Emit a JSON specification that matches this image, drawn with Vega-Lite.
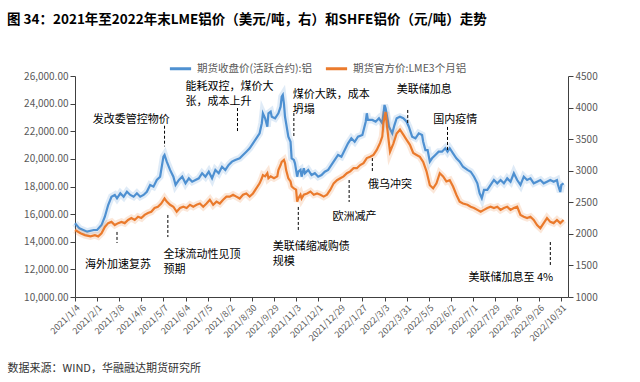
{
  "$schema": "https://vega.github.io/schema/vega-lite/v6.json",
  "width": 493,
  "height": 221,
  "padding": {"left": 7, "top": 12, "right": 10, "bottom": 5},
  "background": "white",
  "config": {
    "view": {"stroke": null},
    "font": "Noto Sans CJK SC",
    "axis": {"labelOverlap": false, "grid": false, "labelColor": "#595959", "domainColor": "#404040", "tickColor": "#404040", "labelFontSize": 10}
  },
  "title": {"text": "图 34：2021年至2022年末LME铝价（美元/吨，右）和SHFE铝价（元/吨）走势", "anchor": "start", "frame": "bounds", "fontSize": 13.5, "fontWeight": "bold", "color": "#000000", "offset": 30},
  "datasets": {
    "shfe": [
      {"i":0,"v":15340},{"i":4,"v":14970},{"i":11,"v":14730},{"i":17,"v":14850},{"i":20,"v":14850},{"i":24,"v":15210},{"i":27,"v":15810},{"i":30,"v":16660},{"i":33,"v":17260},{"i":36,"v":17390},{"i":38,"v":17150},{"i":41,"v":17510},{"i":44,"v":17260},{"i":47,"v":17620},{"i":50,"v":17390},{"i":53,"v":17260},{"i":56,"v":17510},{"i":59,"v":17260},{"i":62,"v":17390},{"i":65,"v":17620},{"i":68,"v":18110},{"i":71,"v":17990},{"i":74,"v":18470},{"i":77,"v":18710},{"i":80,"v":20160},{"i":81,"v":20280},{"i":83,"v":19800},{"i":86,"v":19200},{"i":89,"v":18710},{"i":91,"v":18110},{"i":94,"v":18470},{"i":97,"v":18710},{"i":100,"v":18230},{"i":103,"v":18590},{"i":106,"v":18350},{"i":109,"v":18470},{"i":112,"v":18590},{"i":115,"v":18960},{"i":118,"v":18710},{"i":121,"v":19070},{"i":124,"v":18590},{"i":127,"v":19200},{"i":130,"v":18960},{"i":133,"v":19430},{"i":136,"v":19200},{"i":139,"v":19560},
      {"i":142,"v":19800},{"i":145,"v":19920},{"i":149,"v":20040},{"i":152,"v":20280},{"i":155,"v":20520},{"i":158,"v":20770},{"i":161,"v":21130},{"i":164,"v":21490},{"i":167,"v":21850},{"i":169,"v":22580},{"i":170,"v":23300},{"i":172,"v":22940},{"i":174,"v":22330},{"i":175,"v":23300},{"i":177,"v":23420},{"i":178,"v":23050},{"i":181,"v":22940},{"i":184,"v":23300},{"i":186,"v":23780},{"i":187,"v":24500},{"i":188,"v":24630},{"i":189,"v":24020},{"i":190,"v":23050},{"i":192,"v":22090},{"i":193,"v":21610},{"i":195,"v":21240},{"i":196,"v":20040},{"i":198,"v":19920},{"i":199,"v":19680},{"i":201,"v":18710},{"i":202,"v":19070},{"i":204,"v":19200},{"i":205,"v":18710},{"i":207,"v":19320},{"i":208,"v":18960},{"i":211,"v":19200},{"i":214,"v":18830},{"i":217,"v":18960},{"i":220,"v":18710},{"i":223,"v":18830},{"i":226,"v":19070},{"i":229,"v":19200},{"i":232,"v":19560},{"i":235,"v":19920},{"i":238,"v":20280},{"i":241,"v":20160},{"i":244,"v":20640},{"i":247,"v":21130},{"i":250,"v":21490},{"i":253,"v":21240},{"i":256,"v":21610},{"i":260,"v":21730},{"i":263,"v":22690},{"i":264,"v":23300},{"i":265,"v":22820},{"i":269,"v":22820},{"i":272,"v":22690},{"i":275,"v":22940},{"i":278,"v":22580},{"i":280,"v":23900},{"i":281,"v":23660},{"i":284,"v":22330},{"i":287,"v":21850},
      {"i":289,"v":22450},{"i":291,"v":22940},{"i":294,"v":23050},{"i":297,"v":22940},{"i":300,"v":22690},{"i":302,"v":22330},{"i":305,"v":21610},{"i":308,"v":21490},{"i":311,"v":21850},{"i":314,"v":21730},{"i":315,"v":21240},{"i":317,"v":20640},{"i":319,"v":20640},{"i":321,"v":19800},{"i":323,"v":20040},{"i":326,"v":20280},{"i":329,"v":20520},{"i":332,"v":20520},{"i":335,"v":20770},{"i":337,"v":20520},{"i":339,"v":20770},{"i":342,"v":20400},{"i":345,"v":20040},{"i":348,"v":19800},{"i":351,"v":19430},{"i":355,"v":19200},{"i":358,"v":19070},{"i":361,"v":18710},{"i":364,"v":18230},{"i":366,"v":17510},{"i":368,"v":17150},{"i":370,"v":17750},{"i":373,"v":17750},{"i":376,"v":18110},{"i":379,"v":18470},{"i":382,"v":18230},{"i":385,"v":18470},{"i":388,"v":18230},{"i":391,"v":18590},{"i":394,"v":18350},{"i":397,"v":18960},{"i":400,"v":18470},{"i":403,"v":18110},{"i":406,"v":18710},{"i":409,"v":18470},{"i":412,"v":18590},{"i":415,"v":18230},{"i":418,"v":18350},{"i":421,"v":18470},{"i":424,"v":18230},{"i":427,"v":18350},{"i":430,"v":18470},{"i":433,"v":18350},{"i":436,"v":18470},{"i":437,"v":18110},{"i":439,"v":17600},{"i":440,"v":18110},{"i":442,"v":18230}
    ],
    "lme": [
      {"i":0,"v":2060},{"i":5,"v":2010},{"i":9,"v":1980},{"i":14,"v":1960},{"i":18,"v":1980},{"i":21,"v":1960},{"i":24,"v":2010},{"i":27,"v":2110},{"i":30,"v":2170},{"i":33,"v":2190},{"i":36,"v":2140},{"i":39,"v":2170},{"i":42,"v":2190},{"i":45,"v":2170},{"i":48,"v":2220},{"i":51,"v":2250},{"i":54,"v":2220},{"i":57,"v":2270},{"i":60,"v":2250},{"i":63,"v":2300},{"i":66,"v":2330},{"i":69,"v":2350},{"i":72,"v":2410},{"i":75,"v":2430},{"i":78,"v":2480},{"i":81,"v":2560},{"i":83,"v":2510},{"i":86,"v":2460},{"i":89,"v":2430},{"i":92,"v":2350},{"i":95,"v":2410},{"i":98,"v":2430},{"i":101,"v":2410},{"i":104,"v":2460},{"i":107,"v":2430},{"i":110,"v":2460},{"i":113,"v":2480},{"i":116,"v":2430},{"i":119,"v":2480},{"i":122,"v":2540},{"i":125,"v":2460},{"i":128,"v":2510},{"i":131,"v":2480},{"i":134,"v":2540},{"i":137,"v":2590},
      {"i":140,"v":2590},{"i":143,"v":2620},{"i":146,"v":2590},{"i":149,"v":2560},{"i":152,"v":2620},{"i":155,"v":2640},{"i":158,"v":2590},{"i":161,"v":2640},{"i":164,"v":2720},{"i":167,"v":2800},{"i":169,"v":2880},{"i":170,"v":2930},{"i":172,"v":2910},{"i":174,"v":2960},{"i":175,"v":2880},{"i":177,"v":2910},{"i":180,"v":2880},{"i":183,"v":2910},{"i":184,"v":3010},{"i":186,"v":3090},{"i":187,"v":3140},{"i":189,"v":3170},{"i":190,"v":3120},{"i":191,"v":3010},{"i":193,"v":2880},{"i":195,"v":2830},{"i":196,"v":2750},{"i":198,"v":2720},{"i":200,"v":2700},{"i":201,"v":2510},{"i":202,"v":2560},{"i":204,"v":2620},{"i":205,"v":2560},{"i":207,"v":2620},{"i":210,"v":2640},{"i":213,"v":2670},{"i":216,"v":2620},{"i":219,"v":2640},{"i":222,"v":2620},{"i":225,"v":2590},{"i":228,"v":2620},{"i":231,"v":2700},{"i":234,"v":2800},{"i":237,"v":2850},{"i":240,"v":2880},{"i":243,"v":2910},{"i":246,"v":2960},{"i":249,"v":2990},{"i":252,"v":3040},{"i":255,"v":3040},{"i":258,"v":3090},{"i":261,"v":3120},{"i":264,"v":3200},{"i":267,"v":3220},{"i":270,"v":3250},{"i":273,"v":3330},{"i":276,"v":3440},{"i":278,"v":3540},{"i":279,"v":3750},{"i":281,"v":3930},{"i":282,"v":3750},{"i":284,"v":3440},{"i":285,"v":3300},
      {"i":288,"v":3430},{"i":291,"v":3590},{"i":294,"v":3650},{"i":297,"v":3570},{"i":300,"v":3490},{"i":303,"v":3410},{"i":306,"v":3280},{"i":309,"v":3250},{"i":312,"v":3220},{"i":315,"v":3140},{"i":318,"v":2990},{"i":321,"v":2770},{"i":324,"v":2720},{"i":327,"v":2800},{"i":330,"v":2960},{"i":333,"v":2910},{"i":336,"v":2830},{"i":339,"v":2850},{"i":342,"v":2750},{"i":345,"v":2620},{"i":348,"v":2510},{"i":351,"v":2480},{"i":355,"v":2460},{"i":358,"v":2430},{"i":361,"v":2410},{"i":364,"v":2380},{"i":367,"v":2350},{"i":370,"v":2380},{"i":373,"v":2410},{"i":376,"v":2430},{"i":379,"v":2410},{"i":382,"v":2430},{"i":385,"v":2380},{"i":388,"v":2410},{"i":391,"v":2430},{"i":394,"v":2380},{"i":397,"v":2410},{"i":400,"v":2430},{"i":403,"v":2300},{"i":406,"v":2270},{"i":409,"v":2250},{"i":412,"v":2270},{"i":415,"v":2220},{"i":418,"v":2140},{"i":421,"v":2090},{"i":424,"v":2170},{"i":427,"v":2250},{"i":430,"v":2190},{"i":433,"v":2170},{"i":436,"v":2220},{"i":439,"v":2170},{"i":442,"v":2220}
    ],
    "notes": [
      {"i":9,"v":12320,"t":"海外加速复苏"},
      {"i":16,"v":22820,"t":"发改委管控物价"},
      {"i":80,"v":13040,"t":"全球流动性见顶"},
      {"i":80,"v":11950,"t":"预期"},
      {"i":100,"v":25200,"t":"能耗双控，煤价大"},
      {"i":100,"v":24120,"t":"张，成本上升"},
      {"i":197,"v":24620,"t":"煤价大跌，成本"},
      {"i":197,"v":23540,"t":"坍塌"},
      {"i":179,"v":13620,"t":"美联储缩减购债"},
      {"i":179,"v":12530,"t":"规模"},
      {"i":233,"v":15790,"t":"欧洲减产"},
      {"i":265,"v":18110,"t":"俄乌冲突"},
      {"i":291,"v":24990,"t":"美联储加息"},
      {"i":324,"v":22820,"t":"国内疫情"},
      {"i":356,"v":11380,"t":"美联储加息至 4%"}
    ],
    "rules": [
      {"i":38,"v1":14710,"v2":13910},
      {"i":81,"v1":22400,"v2":20900},
      {"i":84,"v1":15940,"v2":14340},
      {"i":147,"v1":23680,"v2":21870},
      {"i":198,"v1":23320,"v2":21510},
      {"i":202,"v1":16520,"v2":14850},
      {"i":248,"v1":18470,"v2":16880},
      {"i":269,"v1":20060,"v2":19050},
      {"i":301,"v1":23540,"v2":22450},
      {"i":337,"v1":22310,"v2":20640},
      {"i":430,"v1":13980,"v2":12320}
    ]
  },
  "layer": [
    {
      "layer": [
        {
          "data": {"name": "shfe"},
          "mark": {"type": "line", "strokeWidth": 2.2},
          "encoding": {
            "x": {"field": "i", "type": "quantitative", "scale": {"domain": [0, 446], "nice": false, "zero": false},
              "axis": {
                "values": [0,20,40,60,80,100,120,140,160,180,200,220,240,260,280,300,320,340,360,380,400,420,440],
                "labelExpr": "['2021/1/4','2021/2/1','2021/3/8','2021/4/6','2021/5/7','2021/6/4','2021/7/5','2021/8/2','2021/8/30','2021/9/29','2021/11/3','2021/12/1','2021/12/29','2022/1/27','2022/3/3','2022/3/31','2022/5/5','2022/6/2','2022/7/1','2022/7/29','2022/8/26','2022/9/26','2022/10/31'][round(datum.value/20)]",
                "labelAngle": -45, "labelFontSize": 9, "labelPadding": 2, "labelOverlap": false, "labelBound": false,
                "tickSize": 4,
                "title": "数据来源：WIND，华融融达期货研究所", "titleX": -68, "titleY": 71, "titleAlign": "left",
                "titleFontSize": 11, "titleFontWeight": "normal", "titleColor": "#333333", "titleBaseline": "middle"
              }
            },
            "y": {"field": "v", "type": "quantitative", "scale": {"domain": [10000, 26000], "nice": false, "zero": false},
              "axis": {"values": [10000,12000,14000,16000,18000,20000,22000,24000,26000], "format": ",.2f", "title": null, "labelOverlap": false, "tickSize": 5}
            },
            "color": {"datum": "期货收盘价(活跃合约):铝", "type": "nominal",
              "scale": {"domain": ["期货收盘价(活跃合约):铝", "期货官方价:LME3个月铝"], "range": ["#4f91d1", "#eb7b2d"]},
              "legend": {"orient": "none", "legendX": 93, "legendY": -20, "direction": "horizontal", "title": null,
                "symbolType": "stroke", "symbolStrokeWidth": 3, "symbolSize": 450, "labelFontSize": 10.5, "labelColor": "#595959", "columnPadding": 6}
            }
          }
        },
        {
          "data": {"name": "shfe"},
          "mark": {"type": "line", "color": "#4f91d1", "strokeWidth": 7, "opacity": 0.18},
          "encoding": {
            "x": {"field": "i", "type": "quantitative", "axis": {"values": [0,20,40,60,80,100,120,140,160,180,200,220,240,260,280,300,320,340,360,380,400,420,440], "labelOverlap": false}},
            "y": {"field": "v", "type": "quantitative", "axis": {"values": [10000,12000,14000,16000,18000,20000,22000,24000,26000], "labelOverlap": false}}
          }
        },
        {
          "data": {"name": "rules"},
          "mark": {"type": "rule", "color": "#000000", "strokeWidth": 1, "strokeDash": [3, 2]},
          "encoding": {
            "x": {"field": "i", "type": "quantitative", "axis": {"values": [0,20,40,60,80,100,120,140,160,180,200,220,240,260,280,300,320,340,360,380,400,420,440], "labelOverlap": false}},
            "y": {"field": "v1", "type": "quantitative", "axis": {"values": [10000,12000,14000,16000,18000,20000,22000,24000,26000], "labelOverlap": false}},
            "y2": {"field": "v2"}
          }
        },
        {
          "data": {"name": "notes"},
          "mark": {"type": "text", "align": "left", "baseline": "middle", "fontSize": 11, "color": "#000000"},
          "encoding": {
            "x": {"field": "i", "type": "quantitative", "axis": {"values": [0,20,40,60,80,100,120,140,160,180,200,220,240,260,280,300,320,340,360,380,400,420,440], "labelOverlap": false}},
            "y": {"field": "v", "type": "quantitative", "axis": {"values": [10000,12000,14000,16000,18000,20000,22000,24000,26000], "labelOverlap": false}},
            "text": {"field": "t"}
          }
        }
      ]
    },
    {
      "layer": [
        {
          "data": {"name": "lme"},
          "mark": {"type": "line", "strokeWidth": 2.2},
          "encoding": {
            "x": {"field": "i", "type": "quantitative", "axis": {"values": [0,20,40,60,80,100,120,140,160,180,200,220,240,260,280,300,320,340,360,380,400,420,440], "labelOverlap": false}},
            "y": {"field": "v", "type": "quantitative", "scale": {"domain": [1000, 4500], "nice": false, "zero": false},
              "axis": {"orient": "right", "values": [1000,1500,2000,2500,3000,3500,4000,4500], "format": "d", "title": null, "labelOverlap": false, "tickSize": 5}
            },
            "color": {"datum": "期货官方价:LME3个月铝", "type": "nominal"}
          }
        },
        {
          "data": {"name": "lme"},
          "mark": {"type": "line", "color": "#eb7b2d", "strokeWidth": 7, "opacity": 0.18},
          "encoding": {
            "x": {"field": "i", "type": "quantitative", "axis": {"values": [0,20,40,60,80,100,120,140,160,180,200,220,240,260,280,300,320,340,360,380,400,420,440], "labelOverlap": false}},
            "y": {"field": "v", "type": "quantitative", "axis": {"orient": "right", "values": [1000,1500,2000,2500,3000,3500,4000,4500], "labelOverlap": false}}
          }
        }
      ]
    }
  ],
  "resolve": {"scale": {"y": "independent"}}
}
